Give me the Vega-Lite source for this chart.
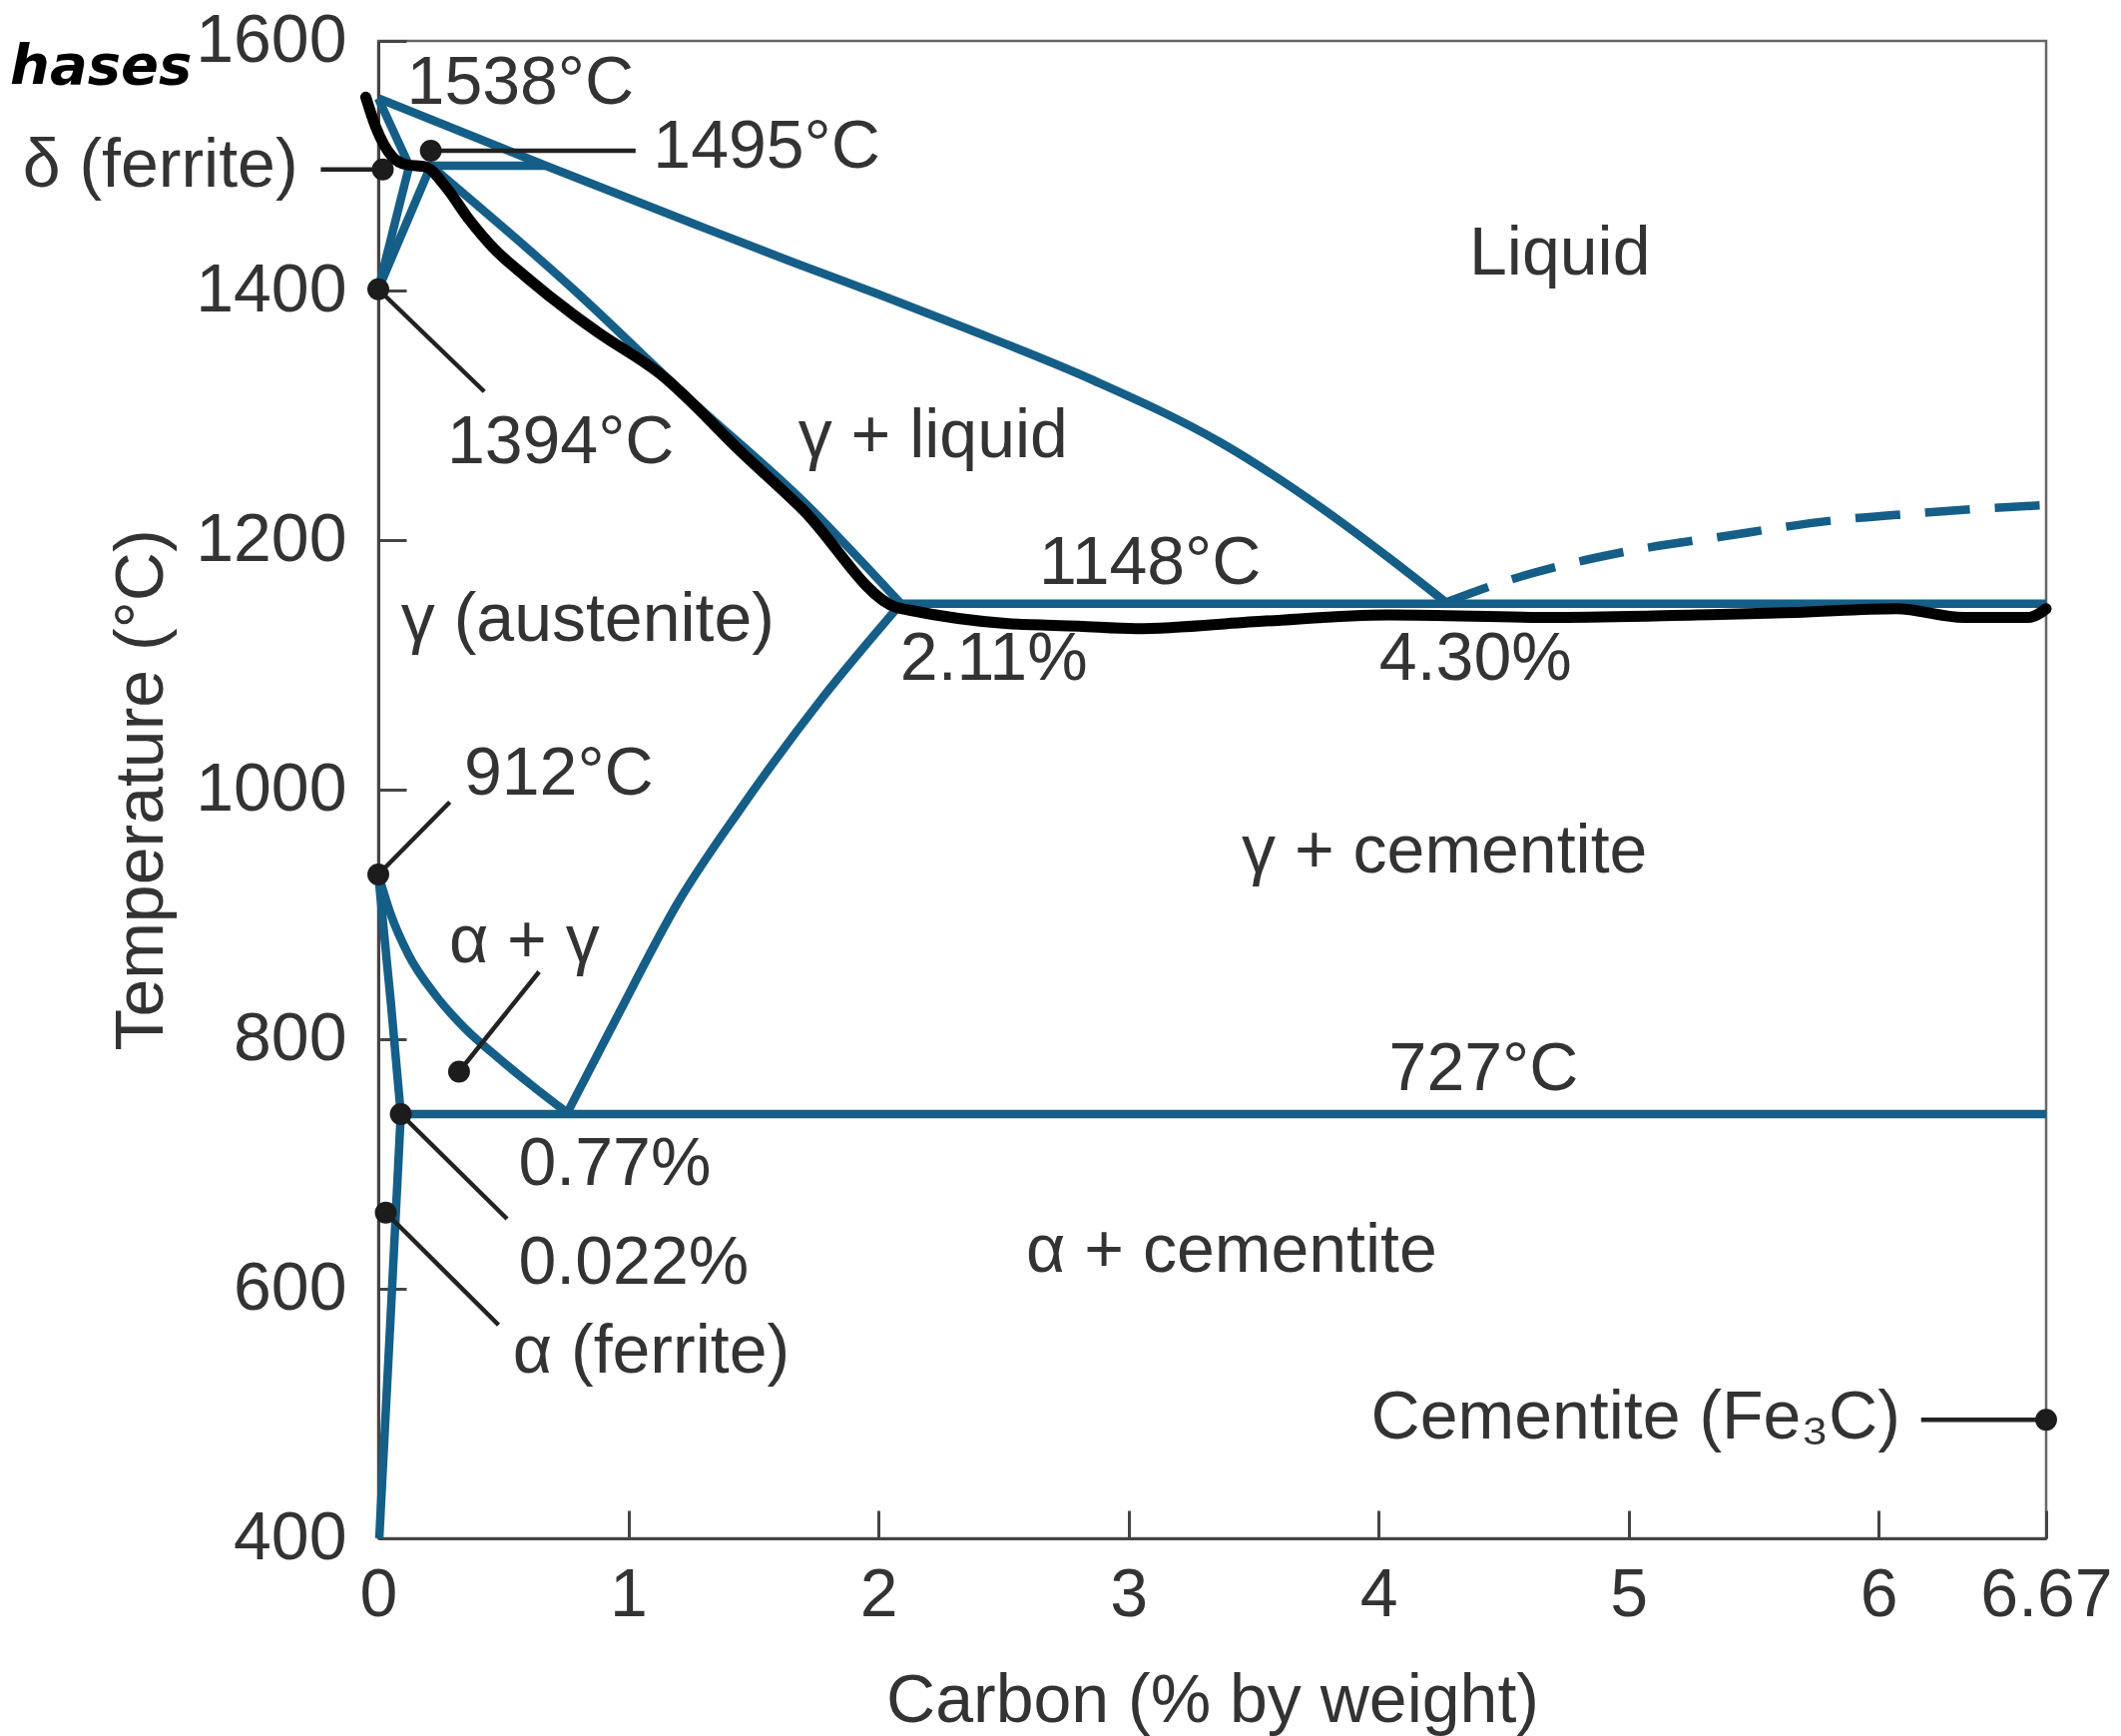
{
  "$schema": "https://vega.github.io/schema/vega-lite/v6.json",
  "width": 1671,
  "height": 1500,
  "autosize": {"type": "none"},
  "padding": {"left": 379, "top": 41, "right": 75, "bottom": 198},
  "background": "white",
  "datasets": {
    "boundaries": [
      {"seg": "liquidus", "i": 0, "c": 0, "t": 1554},
      {"seg": "liquidus", "i": 1, "c": 0.67, "t": 1500},
      {"seg": "liquidus", "i": 2, "c": 1.28, "t": 1452},
      {"seg": "liquidus", "i": 3, "c": 1.68, "t": 1421},
      {"seg": "liquidus", "i": 4, "c": 2.0, "t": 1397},
      {"seg": "liquidus", "i": 5, "c": 2.36, "t": 1369},
      {"seg": "liquidus", "i": 6, "c": 2.86, "t": 1328},
      {"seg": "liquidus", "i": 7, "c": 3.37, "t": 1278},
      {"seg": "liquidus", "i": 8, "c": 3.77, "t": 1226},
      {"seg": "liquidus", "i": 9, "c": 4.04, "t": 1186},
      {"seg": "liquidus", "i": 10, "c": 4.27, "t": 1150},
      {"seg": "peritectic", "i": 0, "c": 0.124, "t": 1500},
      {"seg": "peritectic", "i": 1, "c": 0.67, "t": 1500},
      {"seg": "delta_solidus", "i": 0, "c": 0, "t": 1554},
      {"seg": "delta_solidus", "i": 1, "c": 0.124, "t": 1500},
      {"seg": "delta_solvus", "i": 0, "c": 0, "t": 1401},
      {"seg": "delta_solvus", "i": 1, "c": 0.124, "t": 1500},
      {"seg": "gamma_delta", "i": 0, "c": 0, "t": 1401},
      {"seg": "gamma_delta", "i": 1, "c": 0.21, "t": 1500},
      {"seg": "gamma_solidus", "i": 0, "c": 0.21, "t": 1500},
      {"seg": "gamma_solidus", "i": 1, "c": 0.78, "t": 1401},
      {"seg": "gamma_solidus", "i": 2, "c": 1.24, "t": 1314},
      {"seg": "gamma_solidus", "i": 3, "c": 1.7, "t": 1231},
      {"seg": "gamma_solidus", "i": 4, "c": 2.09, "t": 1149},
      {"seg": "eutectic", "i": 0, "c": 2.09, "t": 1149},
      {"seg": "eutectic", "i": 1, "c": 6.67, "t": 1149},
      {"seg": "acm", "i": 0, "c": 0.756, "t": 741},
      {"seg": "acm", "i": 1, "c": 0.95, "t": 816},
      {"seg": "acm", "i": 2, "c": 1.2, "t": 910},
      {"seg": "acm", "i": 3, "c": 1.45, "t": 985},
      {"seg": "acm", "i": 4, "c": 1.774, "t": 1073},
      {"seg": "acm", "i": 5, "c": 2.09, "t": 1149},
      {"seg": "a3", "i": 0, "c": 0, "t": 932},
      {"seg": "a3", "i": 1, "c": 0.05, "t": 900},
      {"seg": "a3", "i": 2, "c": 0.12, "t": 868},
      {"seg": "a3", "i": 3, "c": 0.23, "t": 835},
      {"seg": "a3", "i": 4, "c": 0.35, "t": 808},
      {"seg": "a3", "i": 5, "c": 0.48, "t": 785},
      {"seg": "a3", "i": 6, "c": 0.62, "t": 762},
      {"seg": "a3", "i": 7, "c": 0.756, "t": 741},
      {"seg": "alpha_upper", "i": 0, "c": 0, "t": 932},
      {"seg": "alpha_upper", "i": 1, "c": 0.05, "t": 830},
      {"seg": "alpha_upper", "i": 2, "c": 0.09, "t": 740},
      {"seg": "alpha_lower", "i": 0, "c": 0.004, "t": 400},
      {"seg": "alpha_lower", "i": 1, "c": 0.055, "t": 600},
      {"seg": "alpha_lower", "i": 2, "c": 0.09, "t": 740},
      {"seg": "eutectoid", "i": 0, "c": 0.09, "t": 740},
      {"seg": "eutectoid", "i": 1, "c": 6.67, "t": 740}
    ],
    "cementite_liquidus": [
      {"i": 0, "c": 4.27, "t": 1150},
      {"i": 1, "c": 4.54, "t": 1169},
      {"i": 2, "c": 4.97, "t": 1190},
      {"i": 3, "c": 5.38, "t": 1203},
      {"i": 4, "c": 5.83, "t": 1216},
      {"i": 5, "c": 6.12, "t": 1221},
      {"i": 6, "c": 6.4, "t": 1225},
      {"i": 7, "c": 6.67, "t": 1228}
    ],
    "sketch": [
      {"i": 0, "c": -0.05, "t": 1555},
      {"i": 1, "c": -0.01, "t": 1531},
      {"i": 2, "c": 0.057, "t": 1507},
      {"i": 3, "c": 0.11, "t": 1501},
      {"i": 4, "c": 0.19, "t": 1499},
      {"i": 5, "c": 0.27, "t": 1483},
      {"i": 6, "c": 0.363, "t": 1457},
      {"i": 7, "c": 0.456, "t": 1435},
      {"i": 8, "c": 0.59, "t": 1411},
      {"i": 9, "c": 0.778, "t": 1381},
      {"i": 10, "c": 0.882, "t": 1366},
      {"i": 11, "c": 1.122, "t": 1334},
      {"i": 12, "c": 1.465, "t": 1268},
      {"i": 13, "c": 1.695, "t": 1225},
      {"i": 14, "c": 2.073, "t": 1146},
      {"i": 15, "c": 2.12, "t": 1144},
      {"i": 16, "c": 2.52, "t": 1133},
      {"i": 17, "c": 2.8, "t": 1131},
      {"i": 18, "c": 3.03, "t": 1129},
      {"i": 19, "c": 3.536, "t": 1135},
      {"i": 20, "c": 4.04, "t": 1140},
      {"i": 21, "c": 4.717, "t": 1138},
      {"i": 22, "c": 5.27, "t": 1140},
      {"i": 23, "c": 5.67, "t": 1142},
      {"i": 24, "c": 6.07, "t": 1145},
      {"i": 25, "c": 6.34, "t": 1138},
      {"i": 26, "c": 6.6, "t": 1138},
      {"i": 27, "c": 6.67, "t": 1145}
    ],
    "leaders": [
      {"id": "delta", "i": 0, "c": -0.23, "t": 1497},
      {"id": "delta", "i": 1, "c": 0.018, "t": 1497},
      {"id": "p1495", "i": 0, "c": 0.21, "t": 1512},
      {"id": "p1495", "i": 1, "c": 1.029, "t": 1512},
      {"id": "p1394", "i": 0, "c": 0, "t": 1401},
      {"id": "p1394", "i": 1, "c": 0.424, "t": 1319},
      {"id": "p912", "i": 0, "c": 0, "t": 932},
      {"id": "p912", "i": 1, "c": 0.286, "t": 990},
      {"id": "ag", "i": 0, "c": 0.323, "t": 774},
      {"id": "ag", "i": 1, "c": 0.643, "t": 854},
      {"id": "p022", "i": 0, "c": 0.09, "t": 740},
      {"id": "p022", "i": 1, "c": 0.515, "t": 656},
      {"id": "alpha", "i": 0, "c": 0.03, "t": 661},
      {"id": "alpha", "i": 1, "c": 0.481, "t": 571},
      {"id": "fe3c", "i": 0, "c": 6.17, "t": 495},
      {"id": "fe3c", "i": 1, "c": 6.67, "t": 495}
    ],
    "dots": [
      {"c": 0.018, "t": 1497},
      {"c": 0.21, "t": 1512},
      {"c": 0, "t": 1401},
      {"c": 0, "t": 932},
      {"c": 0.323, "t": 774},
      {"c": 0.09, "t": 740},
      {"c": 0.03, "t": 661},
      {"c": 6.67, "t": 495}
    ],
    "labels": [
      {"label": "1538°C", "c": 0.114, "t": 1550},
      {"label": "1495°C", "c": 1.099, "t": 1498.5},
      {"label": "Liquid", "c": 4.363, "t": 1413},
      {"label": "1394°C", "c": 0.275, "t": 1261.4},
      {"label": "γ + liquid", "c": 1.679, "t": 1266.4},
      {"label": "1148°C", "c": 2.642, "t": 1165},
      {"label": "γ (austenite)", "c": 0.091, "t": 1119},
      {"label": "2.11%", "c": 2.087, "t": 1088},
      {"label": "4.30%", "c": 4.003, "t": 1088},
      {"label": "912°C", "c": 0.343, "t": 995.7},
      {"label": "γ + cementite", "c": 3.453, "t": 933.6},
      {"label": "α + γ", "c": 0.283, "t": 862},
      {"label": "727°C", "c": 4.042, "t": 759.3},
      {"label": "0.77%", "c": 0.561, "t": 683},
      {"label": "0.022%", "c": 0.561, "t": 604},
      {"label": "α + cementite", "c": 2.591, "t": 614},
      {"label": "α (ferrite)", "c": 0.538, "t": 532.6},
      {"label": "Cementite (Fe₃C)", "c": 3.97, "t": 480.3}
    ],
    "labels_right": [
      {"label": "δ (ferrite)", "c": -0.321, "t": 1483.5}
    ],
    "handwriting": [
      {"label": "hases", "c": -0.745, "t": 1566}
    ]
  },
  "encoding": {
    "x": {
      "field": "c",
      "type": "quantitative",
      "scale": {"domain": [0, 6.67], "nice": false, "zero": false},
      "axis": {
        "title": "Carbon (% by weight)",
        "values": [0, 1, 2, 3, 4, 5, 6, 6.67],
        "labelExpr": "datum.value == 6.67 ? '6.67' : format(datum.value, 'd')",
        "grid": false,
        "tickSize": -28,
        "tickWidth": 3,
        "tickColor": "#444",
        "domainColor": "#444",
        "domainWidth": 3,
        "labelFontSize": 68,
        "labelColor": "#333",
        "labelPadding": 51,
        "labelFlush": false,
        "labelOverlap": false,
        "titleFontSize": 68,
        "titleFontWeight": "normal",
        "titleColor": "#333",
        "titlePadding": 38
      }
    },
    "y": {
      "field": "t",
      "type": "quantitative",
      "scale": {"domain": [400, 1600], "nice": false, "zero": false},
      "axis": {
        "title": "Temperature (°C)",
        "values": [400, 600, 800, 1000, 1200, 1400, 1600],
        "format": "d",
        "grid": false,
        "tickSize": -28,
        "tickWidth": 3,
        "tickColor": "#444",
        "domainColor": "#444",
        "domainWidth": 3,
        "labelFontSize": 68,
        "labelColor": "#333",
        "labelPadding": 60,
        "labelFlush": false,
        "labelOverlap": false,
        "titleFontSize": 68,
        "titleFontWeight": "normal",
        "titleColor": "#333",
        "titlePadding": 19
      }
    }
  },
  "layer": [
    {
      "data": {"name": "boundaries"},
      "mark": {"type": "line", "color": "#155e87", "strokeWidth": 8.5, "interpolate": "monotone", "strokeJoin": "round"},
      "encoding": {
        "detail": {"field": "seg", "type": "nominal"},
        "order": {"field": "i", "type": "quantitative"}
      }
    },
    {
      "data": {"name": "cementite_liquidus"},
      "mark": {"type": "line", "color": "#155e87", "strokeWidth": 8.5, "interpolate": "monotone", "strokeDash": [45, 25]},
      "encoding": {
        "order": {"field": "i", "type": "quantitative"}
      }
    },
    {
      "data": {"name": "sketch"},
      "mark": {"type": "line", "color": "#000000", "strokeWidth": 11, "interpolate": "monotone", "strokeCap": "round", "strokeJoin": "round"},
      "encoding": {
        "order": {"field": "i", "type": "quantitative"}
      }
    },
    {
      "data": {"name": "leaders"},
      "mark": {"type": "line", "color": "#222222", "strokeWidth": 4.5},
      "encoding": {
        "detail": {"field": "id", "type": "nominal"},
        "order": {"field": "i", "type": "quantitative"}
      }
    },
    {
      "data": {"name": "dots"},
      "mark": {"type": "point", "filled": true, "color": "#1c1c1c", "size": 480, "opacity": 1}
    },
    {
      "data": {"name": "labels"},
      "mark": {"type": "text", "align": "left", "baseline": "alphabetic", "fontSize": 68, "color": "#333333", "font": "Liberation Sans"},
      "encoding": {"text": {"field": "label", "type": "nominal"}}
    },
    {
      "data": {"name": "labels_right"},
      "mark": {"type": "text", "align": "right", "baseline": "alphabetic", "fontSize": 68, "color": "#333333", "font": "Liberation Sans"},
      "encoding": {"text": {"field": "label", "type": "nominal"}}
    },
    {
      "data": {"name": "handwriting"},
      "mark": {"type": "text", "align": "right", "baseline": "alphabetic", "fontSize": 56, "fontStyle": "italic", "fontWeight": "bold", "color": "#000000", "font": "DejaVu Sans"},
      "encoding": {"text": {"field": "label", "type": "nominal"}}
    }
  ],
  "config": {
    "font": "Liberation Sans",
    "view": {"stroke": "#666666", "strokeWidth": 2.5}
  }
}
